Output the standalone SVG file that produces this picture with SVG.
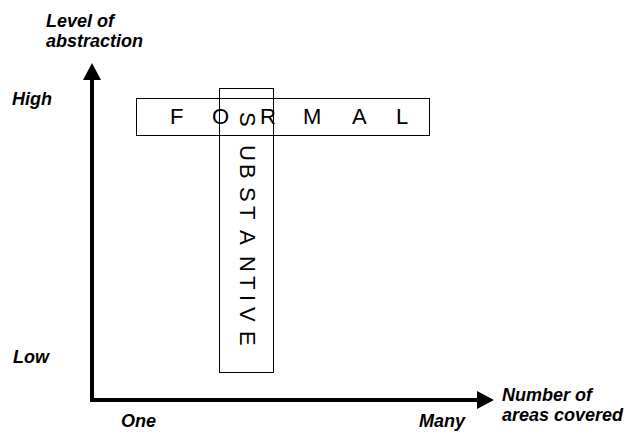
<svg xmlns="http://www.w3.org/2000/svg" width="628" height="434" viewBox="0 0 628 434">
<style>
.lbl{font-family:"Liberation Sans",Arial,sans-serif;font-weight:bold;font-style:italic;font-size:18px;fill:#000}
.big{font-family:"Liberation Sans",Arial,sans-serif;font-size:22px;fill:#000}
.box{fill:none;stroke:#000;stroke-width:1}
.axis{fill:none;stroke:#000;stroke-width:4;stroke-linejoin:miter}
</style>
<defs>
<marker id="arrow" markerUnits="userSpaceOnUse" viewBox="0 0 17 18" refX="0" refY="9" markerWidth="17" markerHeight="18" orient="auto-start-reverse">
<path d="M0,0 L17,9 L0,18 Z" fill="#000"/>
</marker>
</defs>
<rect width="628" height="434" fill="#fff"/>
<g id="connectors">
<path class="axis" d="M92,80 L92,400 L477,400" marker-start="url(#arrow)" marker-end="url(#arrow)"/>
</g>
<g id="axis-labels">
<text class="lbl" x="46" y="27">Level of</text>
<text class="lbl" x="46" y="47">abstraction</text>
<text class="lbl" x="12" y="105">High</text>
<text class="lbl" x="13" y="363">Low</text>
<text class="lbl" x="121" y="427">One</text>
<text class="lbl" x="419" y="427">Many</text>
<text class="lbl" x="502" y="401">Number of</text>
<text class="lbl" x="502" y="421">areas covered</text>
</g>
<g id="formal">
<rect class="box" x="136.5" y="98.5" width="293" height="37"/>
<text class="big" x="170 212 260 303 352 396" y="124">FORMAL</text>
</g>
<g id="substantive">
<rect class="box" x="219.5" y="88.5" width="54" height="284"/>
<text class="big" transform="translate(240,0) rotate(90)" x="112 145 164 187 206 230 256 276 295 307 331" y="0">SUBSTANTIVE</text>
</g>
</svg>
